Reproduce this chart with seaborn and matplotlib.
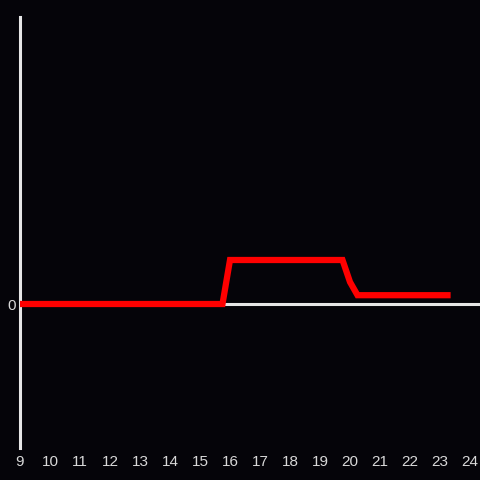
import numpy as np
import pandas as pd
import matplotlib
matplotlib.use("Agg")
from matplotlib import pyplot as plt
import seaborn as sns

# data
hours = [9, 15.75, 16, 19.75, 20, 20.25, 23.25]
values = [0, 0, 1.0, 1.0, 0.5, 0.2, 0.2]
xticks = list(range(9, 25))

df = pd.DataFrame({"hour": hours, "value": values})

sns.set_style("dark")
plt.rcParams['font.family'] = ['Liberation Sans', 'DejaVu Sans']

bg = "#050409"
fig = plt.figure(figsize=(4.8, 4.8), dpi=100, facecolor=bg)
ax = fig.add_axes([20 / 480, 32 / 480, 460 / 480, 431 / 480])
ax.set_facecolor(bg)

ax.axhline(0, color="#e6e6e6", lw=2.2, zorder=1)
sns.lineplot(data=df, x="hour", y="value", color="#ff0000", lw=4.5,
             ax=ax, zorder=3, solid_joinstyle="miter", solid_capstyle="projecting")

ax.set_xlim(9, 9 + 460 / 30)
ax.set_ylim(-144 / 44, 287 / 44)
ax.set_xticks(xticks)
ax.set_yticks([0])
ax.set_xlabel("")
ax.set_ylabel("")
ax.grid(False)
ax.tick_params(axis="both", length=0, colors="#d8d8d8", labelsize=11)
ax.tick_params(axis="x", pad=5)
ax.tick_params(axis="y", pad=3)

for side in ["top", "right", "bottom"]:
    ax.spines[side].set_visible(False)
ax.spines["left"].set_color("#e6e6e6")
ax.spines["left"].set_linewidth(2.2)

fig.savefig("out.png", dpi=100, facecolor=bg)
